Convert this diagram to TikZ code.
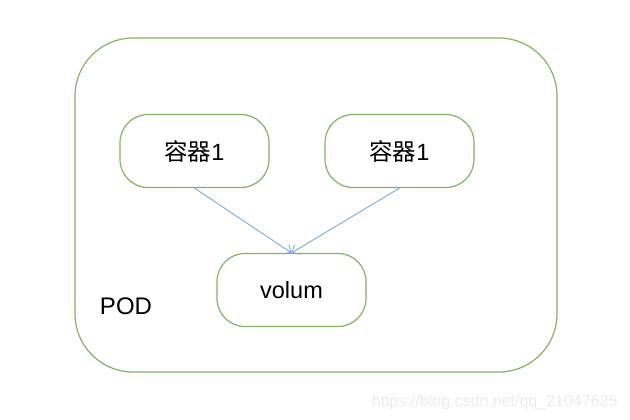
\documentclass[tikz,border=0pt]{standalone}
\usepackage{fontspec}
\setmainfont{Liberation Sans}
\newfontfamily\cjk{Noto Sans CJK SC}
\usetikzlibrary{arrows.meta}
\definecolor{boxgreen}{HTML}{82B366}
\definecolor{arrowblue}{HTML}{7EA6E0}
\definecolor{wmgray}{HTML}{ECECEC}
\tikzset{
  box/.style={draw=boxgreen, line width=1.2pt, rounded corners=28pt, minimum width=149pt, minimum height=73pt, inner sep=0pt, font=\fontsize{23.5}{27}\selectfont},
  link/.style={draw=arrowblue, line width=0.9pt, -{Straight Barb[length=6pt,width=11pt]}}
}
\begin{document}
\begin{tikzpicture}[x=1pt,y=-1pt]
\useasboundingbox (0,0) rectangle (630,420);
\fill[white] (0,0) rectangle (630,420);
\draw[draw=boxgreen, line width=1.2pt, rounded corners=58pt] (75,38) rectangle (557,372);
\node[box] (c1) at (194.5,151) {\cjk 容器\rmfamily 1};
\node[box] (c2) at (399.5,151) {\cjk 容器\rmfamily 1};
\node[box] (v) at (291.5,290) {volum};
\node[font=\fontsize{24}{28}\selectfont] (pod) at (126,306) {POD};
\node[anchor=east, text=wmgray, font=\fontsize{16}{19}\selectfont] (wm) at (621,402) {https://blog.csdn.net/qq\_21047625};
\draw[link] (c1.south) -- (v.north);
\draw[link] (c2.south) -- (v.north);
\end{tikzpicture}
\end{document}
